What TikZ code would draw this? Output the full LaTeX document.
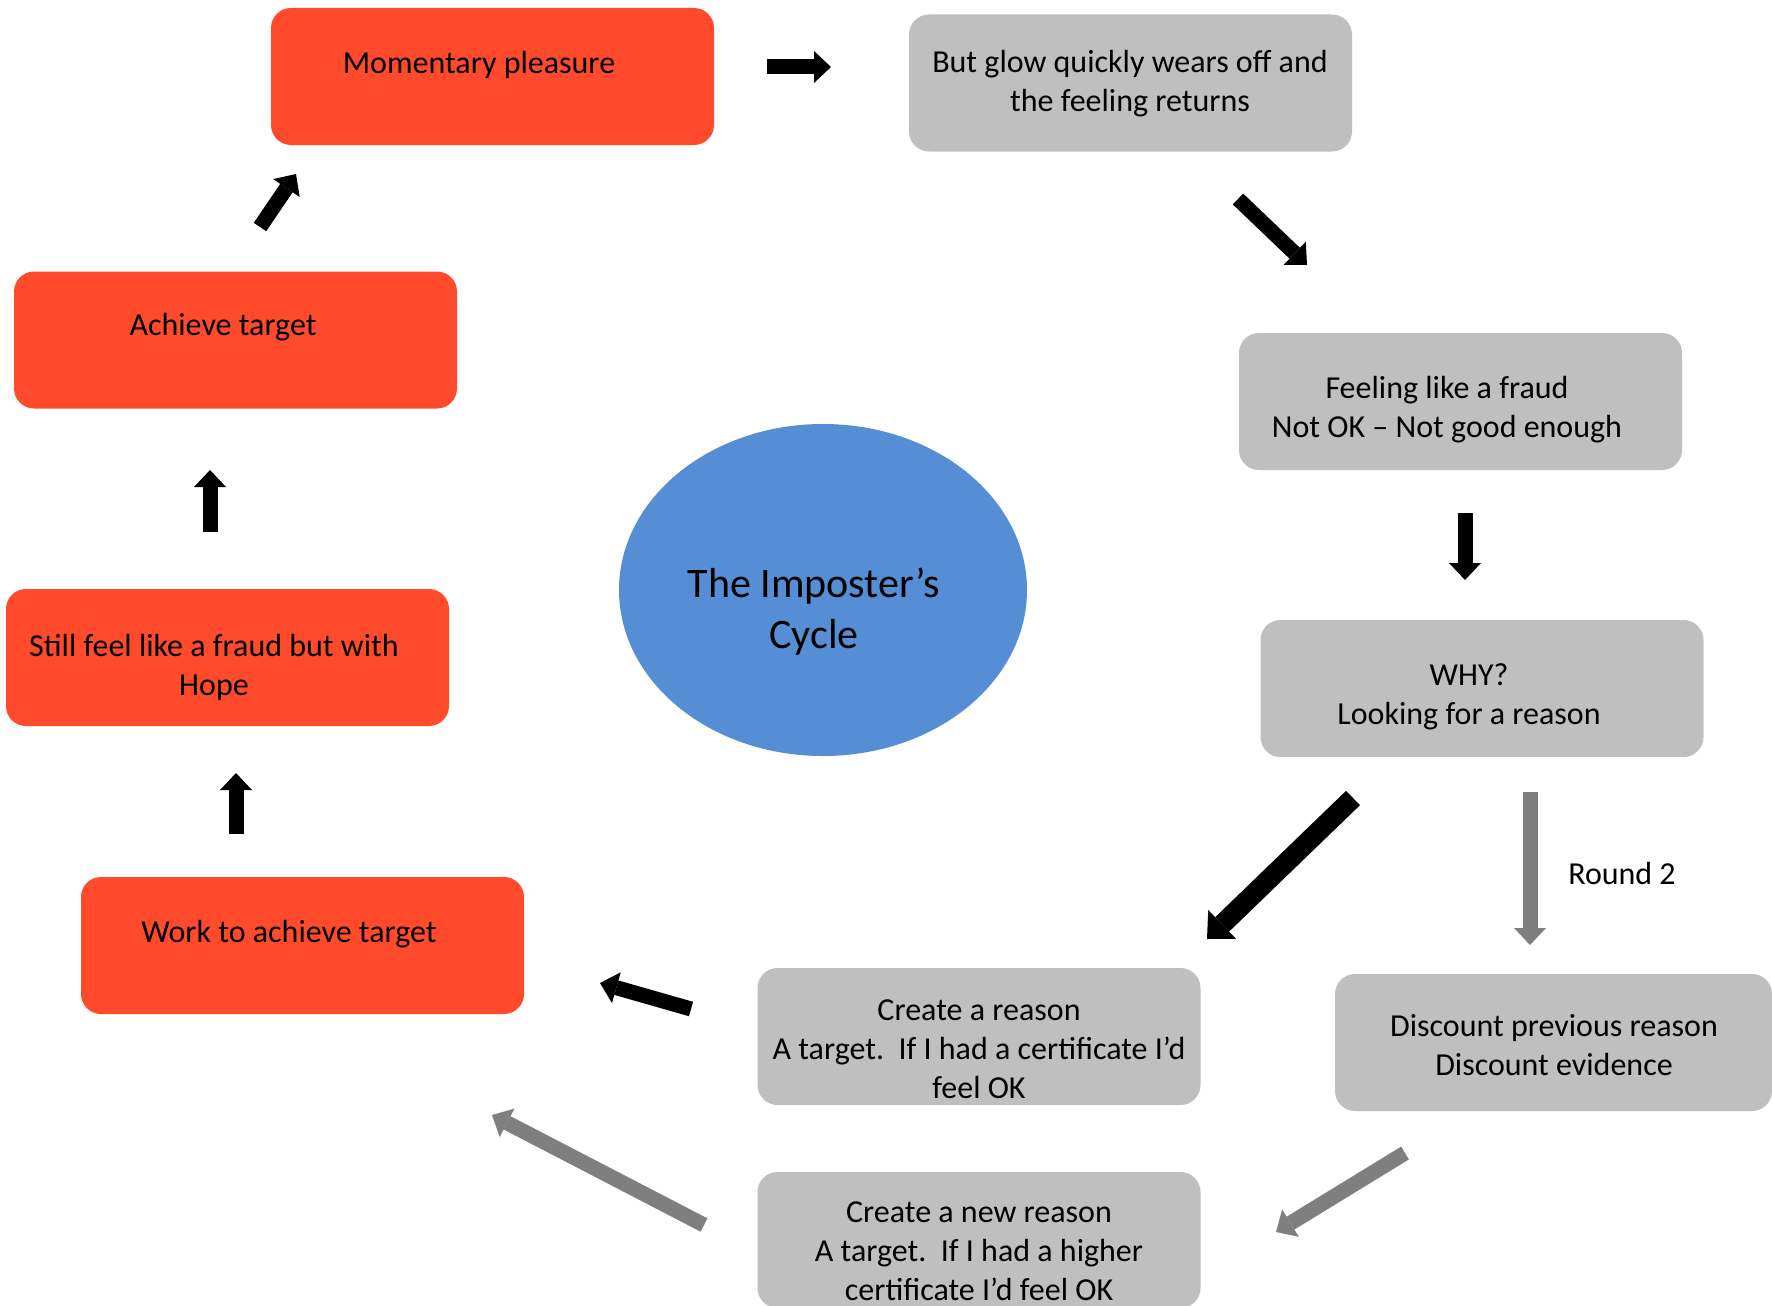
\documentclass[tikz,border=0pt]{standalone}
\usepackage{fontspec}
\setmainfont{Carlito}
\usetikzlibrary{arrows.meta}
\definecolor{boxred}{RGB}{255,74,43}
\definecolor{boxgray}{RGB}{191,191,191}
\definecolor{cycleblue}{RGB}{85,142,213}
\definecolor{arrowgray}{RGB}{127,127,127}
\begin{document}
\begin{tikzpicture}[x=1pt,y=-1pt,
  box/.style={rectangle, rounded corners=20pt, draw=none, inner sep=0pt,
    minimum width=443pt, minimum height=137pt},
  redbox/.style={box, fill=boxred},
  graybox/.style={box, fill=boxgray},
  txt/.style={align=center, font=\fontsize{32}{39}\selectfont, text=black, inner sep=0pt},
  blockarrow/.style={line width=15pt, -{Triangle[width=32pt,length=17pt,line width=0pt]}},
  bigarrow/.style={line width=20pt, -{Triangle[width=40pt,length=21pt,line width=0pt]}},
]
\clip (0,0) rectangle (1772,1306);
\fill[white] (0,0) rectangle (1772,1306);

% red boxes: the hopeful half of the cycle
\node[redbox] (b1) at (492.5,76.5) {};
\node[redbox] (b3) at (235.5,340) {};
\node[redbox] (b5) at (227.5,657.5) {};
\node[redbox] (b7) at (302.5,945.5) {};
% grey boxes: the doubting half
\node[graybox] (b2) at (1130.5,83) {};
\node[graybox] (b4) at (1460.5,401.5) {};
\node[graybox] (b6) at (1482,688.5) {};
\node[graybox] (b8) at (979,1036.5) {};
\node[graybox, minimum width=437pt] (b9) at (1553.5,1042.5) {};
\node[graybox, minimum height=136pt] (b10) at (979,1240) {};

% centre ellipse
\fill[cycleblue] (823,590) ellipse [x radius=204, y radius=166];
\node[align=center, inner sep=0pt, font=\fontsize{42}{51}\selectfont] (title) at (814,611.5) {The Imposter’s\\Cycle};

% box texts
\node[txt] (t1) at (479,64.5) {Momentary pleasure};
\node[txt] (t2) at (1130,83.5) {But glow quickly wears off and\\the feeling returns};
\node[txt] (t3) at (223,327.5) {Achieve target};
\node[txt] (t4) at (1447,409.5) {Feeling like a fraud\\Not OK – Not good enough};
\node[txt] (t5) at (214,667) {Still feel like a fraud but with\\Hope};
\node[txt] (t6) at (1469,696.5) {WHY?\\Looking for a reason};
\node[txt] (t7) at (289,934.5) {Work to achieve target};
\node[txt] (t8) at (979,1049) {Create a reason\\A target.\ \ If I had a certificate I’d\\feel OK};
\node[txt] (t9) at (1554,1045) {Discount previous reason\\Discount evidence};
\node[txt] (t10) at (979,1251) {Create a new reason\\A target.\ \ If I had a higher\\certificate I’d feel OK};
\node[txt] (r2) at (1622,873) {Round 2};

% arrow end points
\coordinate (a1s) at (767,67);   \coordinate (a1e) at (831,67);
\coordinate (a2s) at (1238,199); \coordinate (a2e) at (1307,265);
\coordinate (a3s) at (1465,513); \coordinate (a3e) at (1465,580);
\coordinate (a4s) at (1353,798); \coordinate (a4e) at (1207,939);
\coordinate (a5s) at (1530,792); \coordinate (a5e) at (1530,945);
\coordinate (a6s) at (691,1009); \coordinate (a6e) at (600,983);
\coordinate (a7s) at (704,1225); \coordinate (a7e) at (492,1115);
\coordinate (a8s) at (1405,1153); \coordinate (a8e) at (1276,1232);
\coordinate (a9s) at (210,532);  \coordinate (a9e) at (210,470);
\coordinate (a10s) at (236,834); \coordinate (a10e) at (236,773);
\coordinate (a11s) at (260,227); \coordinate (a11e) at (296,174);

% first round
\draw[blockarrow, black] (a1s) -- (a1e);
\draw[blockarrow, black] (a2s) -- (a2e);
\draw[blockarrow, black] (a3s) -- (a3e);
\draw[bigarrow, black] (a4s) -- (a4e);
\draw[blockarrow, black] (a6s) -- (a6e);
\draw[blockarrow, black] (a9s) -- (a9e);
\draw[blockarrow, black] (a10s) -- (a10e);
\draw[blockarrow, black] (a11s) -- (a11e);
% second round
\draw[blockarrow, arrowgray] (a5s) -- (a5e);
\draw[blockarrow, arrowgray] (a7s) -- (a7e);
\draw[blockarrow, arrowgray] (a8s) -- (a8e);
\end{tikzpicture}
\end{document}
